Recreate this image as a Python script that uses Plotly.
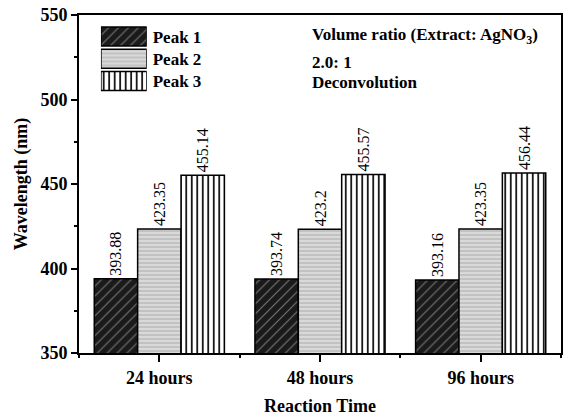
import plotly.graph_objects as go

# Reaction times and peak positions from the deconvolution
categories = ["24 hours", "48 hours", "96 hours"]
peak_names = ["Peak 1", "Peak 2", "Peak 3"]
peak1 = [393.88, 393.74, 393.16]
peak2 = [423.35, 423.2, 423.35]
peak3 = [455.14, 455.57, 456.44]
y_ticks = [350, 400, 450, 500, 550]

series = [peak1, peak2, peak3]

FONT = "'Liberation Serif', 'Times New Roman', Times, serif"

# Fill styles for the three peaks: (bg colour, line colour, pattern, size, solidity)
styles = [
    ("#1a1a1a", "#767676", "/", 7, 0.16),
    ("#c2c2c2", "#dcdcdc", "-", 4, 0.45),
    ("#ffffff", "#000000", "|", 5.5, 0.3),
]

xpos = list(range(len(categories)))


def pattern_marker(style):
    bg, fg, shp, sz, sol = style
    return dict(
        color=bg,
        line=dict(color="black", width=1.5),
        pattern=dict(shape=shp, bgcolor=bg, fgcolor=fg, size=sz,
                     solidity=sol, fillmode="replace"),
    )


fig = go.Figure()
for name, vals, style in zip(peak_names, series, styles):
    fig.add_trace(go.Bar(
        x=xpos, y=vals, name=name,
        marker=pattern_marker(style),
        text=[f"{v:g}" for v in vals],
        textposition="outside", textangle=-90,
        textfont=dict(family=FONT, size=16, color="black"),
        constraintext="none", cliponaxis=False,
        showlegend=False,
    ))

# Legend swatches drawn as a small inset of horizontal bars
for name, style in zip(peak_names, styles):
    fig.add_trace(go.Bar(
        x=[1], y=[name], orientation="h", width=0.86, offsetgroup="key",
        xaxis="x2", yaxis="y2", showlegend=False, hoverinfo="skip",
        marker=pattern_marker(style),
    ))

axis_font = dict(family=FONT, size=18, color="black")

fig.update_layout(
    width=564, height=416,
    margin=dict(l=79, r=1, t=15, b=63),
    paper_bgcolor="white", plot_bgcolor="white",
    barmode="group", bargap=0.19, bargroupgap=0,
    font=dict(family=FONT, color="black"),
    xaxis=dict(
        range=[-0.5, 2.5], tickvals=xpos, ticktext=[f"<b>{c}</b>" for c in categories],
        tickfont=axis_font, ticks="outside", ticklen=7, tickwidth=2, tickcolor="black",
        minor=dict(tickvals=[-0.5, 0.5, 1.5, 2.5], ticks="outside", ticklen=3,
                   tickwidth=2, tickcolor="black"),
        showline=True, linewidth=2, linecolor="black", mirror=True,
        showgrid=False, zeroline=False,
        title=dict(text="<b>Reaction Time</b>", font=axis_font, standoff=13),
    ),
    yaxis=dict(
        range=[350, 550], tickvals=y_ticks, ticktext=[f"<b>{v}</b>" for v in y_ticks],
        tickfont=axis_font, ticks="outside", ticklen=6, tickwidth=2, tickcolor="black",
        minor=dict(dtick=25, tick0=350, ticks="outside", ticklen=3,
                   tickwidth=2, tickcolor="black"),
        showline=True, linewidth=2, linecolor="black", mirror=True,
        showgrid=False, zeroline=False,
        title=dict(text="<b>Wavelength (nm)</b>", font=axis_font, standoff=8),
    ),
    xaxis2=dict(domain=[0.0455, 0.1405], anchor="y2", range=[0, 1],
                visible=False, fixedrange=True),
    yaxis2=dict(domain=[0.772, 0.969], anchor="x2", side="right",
                autorange="reversed", showgrid=False, zeroline=False,
                showline=False, ticks="", ticklabelstandoff=5,
                ticktext=[f"<b>{n}</b>" for n in peak_names], tickvals=peak_names,
                tickfont=dict(family=FONT, size=17, color="black")),
)

notes = ["<b>Volume ratio (Extract: AgNO<sub>3</sub>)</b>", "<b>2.0: 1</b>", "<b>Deconvolution</b>"]
for txt, yy in zip(notes, [0.938, 0.858, 0.799]):
    fig.add_annotation(text=txt, xref="paper", yref="paper", x=0.479, y=yy,
                       xanchor="left", yanchor="middle", showarrow=False,
                       font=dict(family=FONT, size=17, color="black"))

fig.write_html("out.html")
